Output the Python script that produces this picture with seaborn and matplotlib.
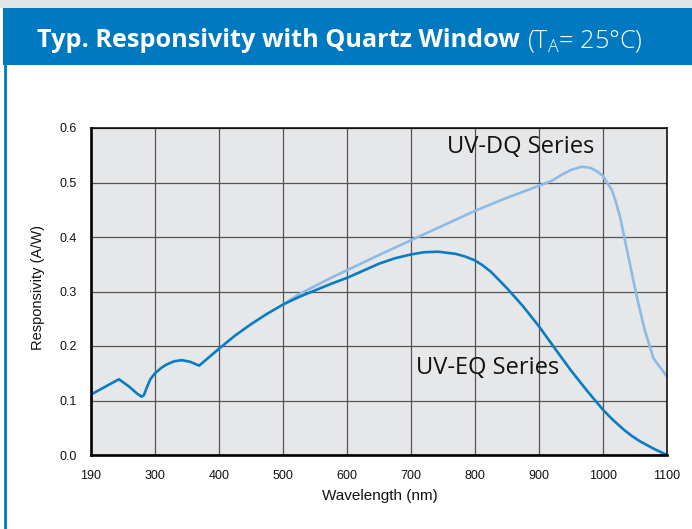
import matplotlib
matplotlib.use("Agg")
import matplotlib.pyplot as plt
from matplotlib import font_manager
from matplotlib.patches import Rectangle
from matplotlib.lines import Line2D
import numpy as np
import pandas as pd
import seaborn as sns

# ---------------- data ----------------
x_ticks = [190, 300, 400, 500, 600, 700, 800, 900, 1000, 1100]
y_ticks = [0.0, 0.1, 0.2, 0.3, 0.4, 0.5, 0.6]

eq_wavelength = [190, 238, 255, 270, 277, 281, 286, 292, 300, 310, 318, 330, 342, 355,
                 369, 385, 400, 425, 450, 475, 500, 525, 550, 575, 600, 625, 650, 675,
                 700, 720, 743, 770, 785, 800, 812, 825, 850, 875, 900, 927, 950, 975,
                 1000, 1015, 1032, 1045, 1058, 1080, 1100]
eq_resp = [0.111, 0.139, 0.126, 0.112, 0.107, 0.110, 0.124, 0.139, 0.150, 0.160, 0.166,
           0.172, 0.174, 0.171, 0.164, 0.180, 0.195, 0.219, 0.240, 0.259, 0.276, 0.290,
           0.302, 0.314, 0.325, 0.338, 0.351, 0.361, 0.368, 0.372, 0.373, 0.369,
           0.364, 0.357, 0.348, 0.336, 0.306, 0.273, 0.236, 0.192, 0.155, 0.118,
           0.083, 0.065, 0.047, 0.035, 0.025, 0.011, 0.0]

dq_wavelength = [500, 525, 550, 575, 600, 650, 700, 750, 800, 850, 900, 920, 935, 950,
                 967, 980, 990, 1000, 1008, 1014, 1020, 1027, 1040, 1053, 1065, 1079,
                 1100]
dq_resp = [0.276, 0.295, 0.310, 0.325, 0.339, 0.367, 0.394, 0.421, 0.448, 0.472, 0.494,
           0.503, 0.514, 0.523, 0.529, 0.527, 0.521, 0.512, 0.497, 0.486, 0.465, 0.435,
           0.362, 0.289, 0.230, 0.177, 0.144]

title_main = "Typ. Responsivity with Quartz Window"
title_cond = r"(T$_{\mathregular{A}}$= 25°C)"
x_label = "Wavelength (nm)"
y_label = "Responsivity (A/W)"
label_dq = "UV-DQ Series"
label_eq = "UV-EQ Series"

# ---------------- style ----------------
sns.set_theme(style="white")
available = {f.name for f in font_manager.fontManager.ttflist}
tick_font = "Liberation Sans" if "Liberation Sans" in available else "DejaVu Sans"
anno_font = "Open Sans" if "Open Sans" in available else "DejaVu Sans"
head_font, head_size = anno_font, 18.2
plt.rcParams["font.family"] = [tick_font, "DejaVu Sans"]

BLUE = "#0079c1"
EQ_COL = "#0a7cc4"
DQ_COL = "#8dbbe7"

fig = plt.figure(figsize=(6.92, 5.29), dpi=100)
W, H = 692, 529

# header band and frame
fig.patches.append(Rectangle((0, (H - 8) / H), 1, 8 / H, transform=fig.transFigure,
                             facecolor="#e1e5e7", edgecolor="none", zorder=0))
fig.patches.append(Rectangle((3 / W, (H - 65) / H), 1, 57 / H, transform=fig.transFigure,
                             facecolor=BLUE, edgecolor="none", zorder=0))
fig.lines.append(Line2D([5 / W, 5 / W], [0, (H - 65) / H], transform=fig.transFigure,
                        color=BLUE, lw=2.0))

ax = fig.add_axes([91 / W, 74 / H, 576 / W, 327 / H])
ax.set_facecolor("#e6e7e9")


def fwd(x):
    x = np.asarray(x, dtype=float)
    return np.where(x < 300, (x - 190) / 110.0, 1 + (x - 300) / 100.0)


def inv(p):
    p = np.asarray(p, dtype=float)
    return np.where(p < 1, 190 + 110.0 * p, 300 + 100.0 * (p - 1))


ax.set_xscale("function", functions=(fwd, inv))

df_dq = pd.DataFrame({"wl": dq_wavelength, "r": dq_resp})
df_eq = pd.DataFrame({"wl": eq_wavelength, "r": eq_resp})
sns.lineplot(data=df_dq, x="wl", y="r", ax=ax, color=DQ_COL, lw=1.9, sort=False,
             estimator=None, zorder=3, solid_joinstyle="round")
sns.lineplot(data=df_eq, x="wl", y="r", ax=ax, color=EQ_COL, lw=1.9, sort=False,
             estimator=None, zorder=4, solid_joinstyle="round")

ax.set_xlim(190, 1100)
ax.set_ylim(0, 0.6)
ax.set_xticks(x_ticks)
ax.set_xticklabels([str(t) for t in x_ticks])
ax.set_yticks(y_ticks)
ax.set_yticklabels([f"{t:.1f}" for t in y_ticks])
ax.xaxis.set_minor_locator(matplotlib.ticker.NullLocator())
ax.grid(True, color="#555555", lw=0.9)
ax.set_axisbelow(True)
ax.tick_params(axis="both", length=0, labelsize=9, colors="#111111")
ax.tick_params(axis="x", pad=11)
ax.tick_params(axis="y", pad=10)
for side in ["left", "bottom"]:
    ax.spines[side].set_linewidth(1.9)
    ax.spines[side].set_color("black")
for side in ["top", "right"]:
    ax.spines[side].set_linewidth(1.1)
    ax.spines[side].set_color("black")
for s in ax.spines.values():
    s.set_zorder(5)

ax.set_xlabel(x_label, fontsize=11, color="#111111")
ax.set_ylabel(y_label, fontsize=10.5, color="#111111")
ax.xaxis.set_label_coords(0.502, -0.104)
ax.yaxis.set_label_coords(-0.08, 0.512)

ax.text(0.618, 0.942, label_dq, transform=ax.transAxes, fontsize=17,
        family=[anno_font, "DejaVu Sans"], va="center", ha="left", color="#111111")
ax.text(0.564, 0.266, label_eq, transform=ax.transAxes, fontsize=17,
        family=[anno_font, "DejaVu Sans"], va="center", ha="left", color="#111111")

# title
t1 = fig.text(37 / W, (H - 47) / H, title_main, fontsize=head_size, color="white",
              family=[head_font, "DejaVu Sans"], weight="bold", va="baseline", ha="left")
renderer = fig.canvas.get_renderer()
bb = t1.get_window_extent(renderer=renderer)
fig.text((bb.x1 + 7) / W, (H - 47) / H, title_cond, fontsize=head_size, color="white",
         family=[anno_font, "DejaVu Sans"], weight="light", va="baseline", ha="left")

fig.savefig("out.png", dpi=100)
